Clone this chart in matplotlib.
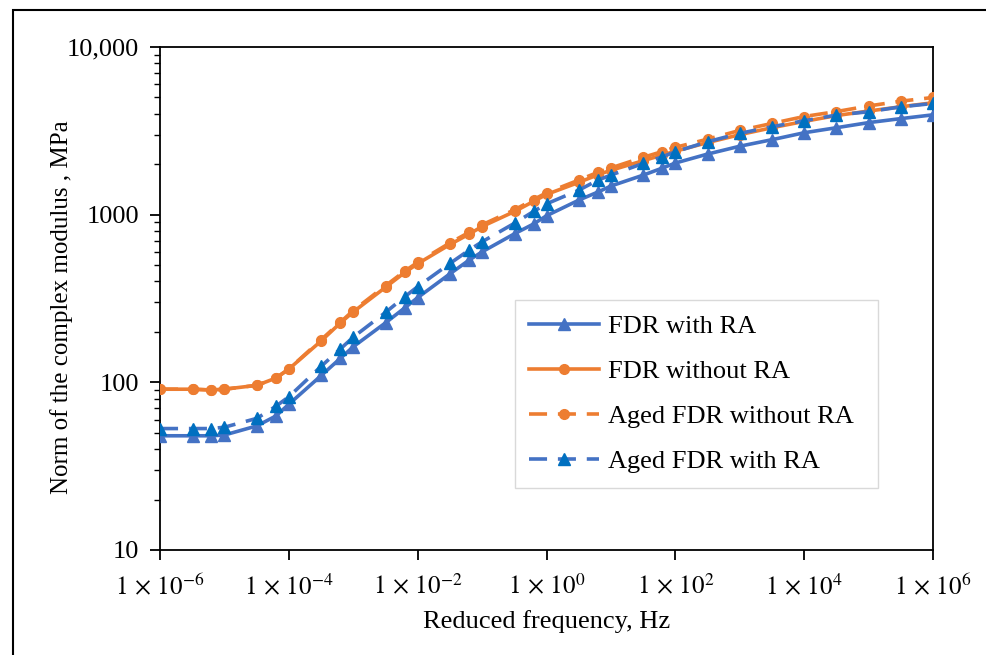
import matplotlib
matplotlib.use("Agg")
import matplotlib.pyplot as plt
from matplotlib.ticker import FixedLocator, FixedFormatter, LogLocator, NullFormatter, NullLocator
from matplotlib.patches import Rectangle

plt.rcParams['font.family'] = ['Liberation Serif', 'DejaVu Serif']
plt.rcParams['mathtext.fontset'] = 'stix'

freq = [1e-6, 3.2e-6, 6.3e-6, 1e-5, 3.2e-5, 6.3e-5, 1e-4, 3.2e-4, 6.3e-4, 1e-3,
        3.2e-3, 6.3e-3, 1e-2, 3.2e-2, 6.3e-2, 0.1, 0.32, 0.63, 1.0, 3.2, 6.3, 10.0,
        32.0, 63.0, 100.0, 316.0, 1000.0, 3162.0, 1e4, 31623.0, 1e5, 316228.0, 1e6]

fdr_with_ra = [48, 48, 48, 48.5, 55, 63, 74, 110, 139, 163, 227, 278, 320, 445, 536, 600,
               770, 880, 985, 1223, 1365, 1482, 1723, 1897, 2032, 2298, 2560, 2800, 3080,
               3300, 3540, 3740, 3940]
fdr_without_ra = [91, 91, 90, 91, 96, 106, 120, 177, 226, 263, 370, 452, 510, 665, 766, 850,
                  1045, 1200, 1320, 1560, 1730, 1840, 2100, 2270, 2390, 2690, 3000, 3300, 3600,
                  3900, 4150, 4400, 4650]
aged_without_ra = [91, 91, 90, 91, 96, 106, 120, 180, 228, 268, 378, 460, 520, 680, 785, 870,
                   1070, 1230, 1350, 1610, 1790, 1900, 2200, 2380, 2520, 2820, 3180, 3500, 3850,
                   4120, 4450, 4750, 5000]
aged_with_ra = [53, 53, 53, 54, 61, 72, 82, 125, 158, 186, 262, 324, 372, 513, 615, 689,
                890, 1045, 1160, 1402, 1608, 1723, 2024, 2215, 2372, 2722, 3054, 3345, 3631,
                3926, 4111, 4397, 4605]

labels = ["FDR with RA", "FDR without RA", "Aged FDR without RA", "Aged FDR with RA"]
xtick_vals = [1e-6, 1e-4, 1e-2, 1e0, 1e2, 1e4, 1e6]
xtick_labels = [r'$1\,\times\,10^{-6}$', r'$1\,\times\,10^{-4}$', r'$1\,\times\,10^{-2}$',
                r'$1\,\times\,10^{0}$', r'$1\,\times\,10^{2}$', r'$1\,\times\,10^{4}$',
                r'$1\,\times\,10^{6}$']
ytick_vals = [10, 100, 1000, 10000]
ytick_labels = ["10", "100", "1000", "10,000"]

blue = '#4472C4'
blue2 = '#0070C0'
orange = '#ED7D31'

fig = plt.figure(figsize=(9.86, 6.55), dpi=100)
ax = fig.add_axes([160/986, 1-550/655, (933-160)/986, (550-47)/655])

dash = (0, (5, 3))
lw = 2.6
ax.plot(freq, fdr_with_ra, color=blue, lw=lw, marker='^', ms=8.5, mfc=blue, mec=blue, label=labels[0], zorder=3)
ax.plot(freq, fdr_without_ra, color=orange, lw=lw, marker='o', ms=7, mfc=orange, mec=orange, label=labels[1], zorder=3)
ax.plot(freq, aged_without_ra, color=orange, lw=lw, ls=dash, marker='o', ms=7, mfc=orange, mec=orange, label=labels[2], zorder=4)
ax.plot(freq, aged_with_ra, color=blue, lw=lw, ls=dash, marker='^', ms=8.5, mfc=blue2, mec=blue2, label=labels[3], zorder=4)

ax.set_xscale('log')
ax.set_yscale('log')
ax.set_xlim(1e-6, 1e6)
ax.set_ylim(10, 10000)

ax.xaxis.set_major_locator(FixedLocator(xtick_vals))
ax.xaxis.set_major_formatter(FixedFormatter(xtick_labels))
ax.xaxis.set_minor_locator(NullLocator())
ax.yaxis.set_major_locator(FixedLocator(ytick_vals))
ax.yaxis.set_major_formatter(FixedFormatter(ytick_labels))
ax.yaxis.set_minor_locator(LogLocator(base=10, subs=range(2, 10)))
ax.yaxis.set_minor_formatter(NullFormatter())

ax.tick_params(axis='both', which='major', direction='out', length=7, width=1.3, pad=8)
ax.tick_params(axis='x', which='major', labelsize=18, pad=10)
ax.tick_params(axis='y', which='major', labelsize=19)
ax.tick_params(axis='y', which='minor', direction='out', length=4, width=1.0)
for s in ax.spines.values():
    s.set_linewidth(1.3)

ax.set_xlabel("Reduced frequency, Hz", fontsize=19, labelpad=8)
ax.set_ylabel("Norm of the complex modulus , MPa", fontsize=18)
ax.yaxis.set_label_coords(-0.113, 0.483)

leg = ax.legend(loc='upper left', bbox_to_anchor=(0.459, 0.125, 0.47, 0.372), mode='expand',
                borderaxespad=0, fontsize=19, handlelength=2.65, handletextpad=0.35,
                borderpad=0.55, labelspacing=0.82, fancybox=False, frameon=True, framealpha=1.0)
leg.get_frame().set_edgecolor('#D9D9D9')
leg.get_frame().set_linewidth(1.0)
leg.set_zorder(10)

fig.patches.append(Rectangle((13/986, -0.05), 1.1, 1.05 - 10/655, transform=fig.transFigure,
                             fill=False, edgecolor='black', linewidth=1.5))

fig.savefig("out.png", dpi=100)
